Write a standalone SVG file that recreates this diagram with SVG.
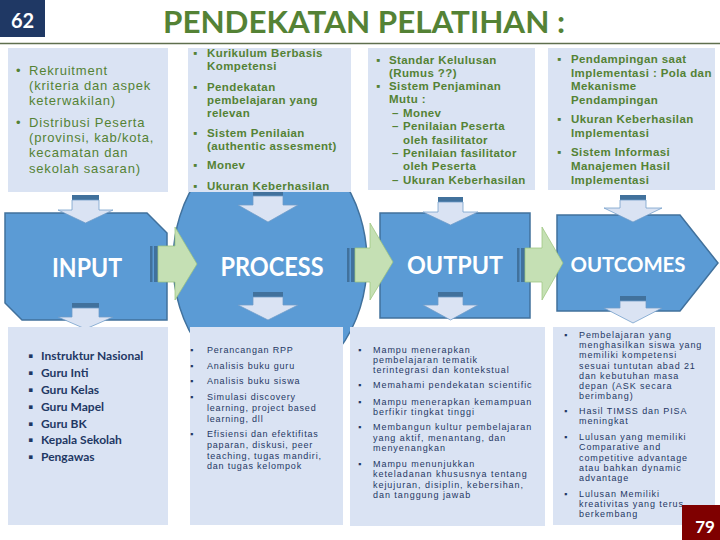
<svg xmlns="http://www.w3.org/2000/svg" width="720" height="540" viewBox="0 0 720 540">
<style>
.box{fill:#DAE3F3}
.shape{fill:#5B9BD5;stroke:#41719C;stroke-width:1.5}
.label{font-family:Lato,"Open Sans",sans-serif;font-weight:bold;fill:#FFFFFF;text-anchor:middle}
.g1{font-family:"Liberation Sans",Arial,sans-serif;font-size:13px;fill:#548235;letter-spacing:0.8px}
.g2{font-family:"Liberation Sans",Arial,sans-serif;font-size:11.5px;font-weight:bold;fill:#548235;letter-spacing:0.4px}
.n1{font-family:Lato,"Open Sans",sans-serif;font-size:12px;font-weight:bold;fill:#1F3864}
.n2{font-family:"Liberation Sans",Arial,sans-serif;font-size:9px;fill:#1F3864}
.ls2{letter-spacing:0.8px}
.ls3{letter-spacing:0.95px}
.ls4{letter-spacing:0.9px}
.stripe{fill:#41719C}
.darr{fill:#DAE3F3;stroke:#6D9BC8;stroke-width:0.75}
.rarr{fill:#C5E0B4;stroke:#9CC47E;stroke-width:0.75}
</style>
<rect width="720" height="540" fill="#FFFFFF"/>

<g id="header">
<rect x="0" y="0" width="45" height="37" fill="#1F3864"/>
<text x="22.5" y="27.5" font-family="Lato,'Open Sans',sans-serif" font-size="20" font-weight="bold" fill="#FFFFFF" text-anchor="middle">62</text>
<text x="364" y="33" font-family="Lato,'Open Sans',sans-serif" font-size="30" font-weight="bold" fill="#548235" text-anchor="middle" textLength="402" lengthAdjust="spacingAndGlyphs">PENDEKATAN PELATIHAN :</text>
<line x1="0" y1="43.5" x2="720" y2="43.5" stroke="#5F6F4E" stroke-width="1.5"/>
</g>

<g id="input">
<path class="shape" d="M5,213 H147 L167,233 V320 H22 L5,303 Z"/>
<text class="label" x="87" y="277" font-size="26" textLength="70" lengthAdjust="spacingAndGlyphs">INPUT</text>
</g>
<g id="process">
<ellipse class="shape" cx="270" cy="262" rx="97" ry="124"/>
<text class="label" x="272" y="276" font-size="26" textLength="103" lengthAdjust="spacingAndGlyphs">PROCESS</text>
</g>
<g id="output">
<rect class="shape" x="380" y="213" width="150" height="105"/>
<text class="label" x="455" y="274" font-size="24" textLength="96" lengthAdjust="spacingAndGlyphs">OUTPUT</text>
</g>
<g id="outcomes">
<path class="shape" d="M557,215 H680 L718,263 L680,311 H557 Z"/>
<text class="label" x="628" y="272" font-size="21" textLength="115" lengthAdjust="spacingAndGlyphs">OUTCOMES</text>
</g>

<g id="connectors">
<rect class="stripe" x="150" y="246" width="2.5" height="36"/>
<rect class="stripe" x="154" y="246" width="4" height="36"/>
<path class="rarr" d="M158,246 H175 V227 L197,264 L175,300 V282 H158 Z"/>
<rect class="stripe" x="347" y="248" width="2.5" height="34"/>
<rect class="stripe" x="351" y="248" width="4" height="34"/>
<path class="rarr" d="M355,248 H370 V223 L393,262 L370,300 V282 H355 Z"/>
<rect class="stripe" x="517" y="248" width="2.5" height="34"/>
<rect class="stripe" x="521" y="248" width="4" height="34"/>
<path class="rarr" d="M525,248 H542 V227 L563,263 L542,300 V282 H525 Z"/>
<rect class="stripe" x="72" y="195" width="27" height="5"/>
<path class="darr" d="M72,200 H99 V210 H113 L85.5,223 L58,210 H72 Z"/>
<rect class="stripe" x="72" y="303" width="27" height="5"/>
<path class="darr" d="M72,308 H99 V317 H113 L85.5,329 L58,317 H72 Z"/>
<rect class="stripe" x="253" y="191" width="30" height="5"/>
<path class="darr" d="M253,196 H283 V205 H298 L268,222 L238,205 H253 Z"/>
<rect class="stripe" x="253" y="292" width="30" height="5"/>
<path class="darr" d="M253,297 H283 V305 H298 L268,320 L238,305 H253 Z"/>
<rect class="stripe" x="438" y="197" width="25" height="5"/>
<path class="darr" d="M438,202 H463 V212 H478 L450.5,225 L423,212 H438 Z"/>
<rect class="stripe" x="438" y="292" width="25" height="5"/>
<path class="darr" d="M438,297 H463 V305 H478 L450.5,320 L423,305 H438 Z"/>
<rect class="stripe" x="620" y="195" width="26" height="5"/>
<path class="darr" d="M620,200 H646 V208 H662 L633,222 L604,208 H620 Z"/>
<rect class="stripe" x="620" y="296" width="26" height="5"/>
<path class="darr" d="M620,301 H646 V308 H662 L633,323 L604,308 H620 Z"/>
</g>

<g id="input-top">
<rect class="box" x="8" y="48" width="160" height="144"/>
<g class="g1">
<text x="16" y="75">•</text>
<text x="29" y="75">Rekruitment<tspan x="29" dy="15">(kriteria dan aspek</tspan><tspan x="29" dy="15">keterwakilan)</tspan></text>
<text x="16" y="127">•</text>
<text x="29" y="127">Distribusi Peserta<tspan x="29" dy="15">(provinsi, kab/kota,</tspan><tspan x="29" dy="15">kecamatan dan</tspan><tspan x="29" dy="16">sekolah sasaran)</tspan></text>
</g>
</g>
<g id="process-top">
<rect class="box" x="188" y="48" width="163" height="144"/>
<g class="g2">
<text x="193" y="57">▪</text>
<text x="207" y="57">Kurikulum Berbasis<tspan x="207" dy="13">Kompetensi</tspan></text>
<text x="193" y="91">▪</text>
<text x="207" y="91">Pendekatan<tspan x="207" dy="13">pembelajaran yang</tspan><tspan x="207" dy="13">relevan</tspan></text>
<text x="193" y="137">▪</text>
<text x="207" y="137">Sistem Penilaian<tspan x="207" dy="13">(authentic assesment)</tspan></text>
<text x="193" y="169">▪</text>
<text x="207" y="169">Monev</text>
<text x="193" y="190">▪</text>
<text x="207" y="190">Ukuran Keberhasilan</text>
</g>
</g>
<g id="output-top">
<rect class="box" x="368" y="48" width="167" height="142"/>
<g class="g2">
<text x="376" y="64">▪</text>
<text x="389" y="64">Standar Kelulusan<tspan x="389" dy="13">(Rumus ??)</tspan></text>
<text x="376" y="90">▪</text>
<text x="389" y="90">Sistem Penjaminan<tspan x="389" dy="13">Mutu :</tspan></text>
<text x="392" y="117">–</text>
<text x="403" y="117">Monev</text>
<text x="392" y="130">–</text>
<text x="403" y="130">Penilaian Peserta<tspan x="403" dy="14">oleh fasilitator</tspan></text>
<text x="392" y="157">–</text>
<text x="403" y="157">Penilaian fasilitator<tspan x="403" dy="13">oleh Peserta</tspan></text>
<text x="392" y="184">–</text>
<text x="403" y="184">Ukuran Keberhasilan</text>
</g>
</g>
<g id="outcomes-top">
<rect class="box" x="548" y="48" width="167" height="142"/>
<g class="g2">
<text x="557" y="63">▪</text>
<text x="571" y="63">Pendampingan saat<tspan x="571" dy="14">Implementasi : Pola dan</tspan><tspan x="571" dy="13">Mekanisme</tspan><tspan x="571" dy="14">Pendampingan</tspan></text>
<text x="557" y="123">▪</text>
<text x="571" y="123">Ukuran Keberhasilan<tspan x="571" dy="14">Implementasi</tspan></text>
<text x="557" y="156">▪</text>
<text x="571" y="156">Sistem Informasi<tspan x="571" dy="14">Manajemen  Hasil</tspan><tspan x="571" dy="14">Implementasi</tspan></text>
</g>
</g>

<g id="input-bottom">
<rect class="box" x="8" y="327" width="160" height="198"/>
<g class="n1">
<text x="28" y="360">▪</text><text x="41" y="360">Instruktur Nasional</text>
<text x="28" y="377">▪</text><text x="41" y="377">Guru Inti</text>
<text x="28" y="394">▪</text><text x="41" y="394">Guru Kelas</text>
<text x="28" y="411">▪</text><text x="41" y="411">Guru Mapel</text>
<text x="28" y="428">▪</text><text x="41" y="428">Guru BK</text>
<text x="28" y="444">▪</text><text x="41" y="444">Kepala Sekolah</text>
<text x="28" y="461">▪</text><text x="41" y="461">Pengawas</text>
</g>
</g>
<g id="process-bottom">
<rect class="box" x="190" y="327" width="153" height="198"/>
<g class="n2">
<text x="190" y="353">▪</text><text class="ls2" x="207" y="353">Perancangan RPP</text>
<text x="190" y="369">▪</text><text class="ls2" x="207" y="369">Analisis buku guru</text>
<text x="190" y="384">▪</text><text class="ls2" x="207" y="384">Analisis buku siswa</text>
<text x="190" y="400">▪</text><text class="ls2" x="207" y="400">Simulasi discovery<tspan x="207" dy="11">learning, project based</tspan><tspan x="207" dy="11">learning, dll</tspan></text>
<text x="190" y="437">▪</text><text class="ls2" x="207" y="437">Efisiensi dan efektifitas<tspan x="207" dy="11">paparan, diskusi, peer</tspan><tspan x="207" dy="10.5">teaching, tugas mandiri,</tspan><tspan x="207" dy="10.5">dan tugas kelompok</tspan></text>
</g>
</g>
<g id="output-bottom">
<rect class="box" x="350" y="327" width="195" height="199"/>
<g class="n2">
<text x="358" y="353">▪</text><text class="ls3" x="373" y="353">Mampu menerapkan<tspan x="373" dy="10.2">pembelajaran tematik</tspan><tspan x="373" dy="10.2">terintegrasi dan kontekstual</tspan></text>
<text x="358" y="388">▪</text><text class="ls3" x="373" y="388">Memahami pendekatan scientific</text>
<text x="358" y="405">▪</text><text class="ls3" x="373" y="405">Mampu menerapkan kemampuan<tspan x="373" dy="10.2">berfikir tingkat tinggi</tspan></text>
<text x="358" y="430">▪</text><text class="ls3" x="373" y="430">Membangun kultur pembelajaran<tspan x="373" dy="10.5">yang aktif, menantang, dan</tspan><tspan x="373" dy="10.5">menyenangkan</tspan></text>
<text x="358" y="467">▪</text><text class="ls3" x="373" y="467">Mampu menunjukkan<tspan x="373" dy="10.3">keteladanan khususnya tentang</tspan><tspan x="373" dy="10.3">kejujuran, disiplin, kebersihan,</tspan><tspan x="373" dy="10.4">dan tanggung jawab</tspan></text>
</g>
</g>
<g id="outcomes-bottom">
<rect class="box" x="553" y="327" width="162" height="198"/>
<g class="n2">
<text x="564" y="338">▪</text><text class="ls4" x="579" y="338">Pembelajaran yang<tspan x="579" dy="10.2">menghasilkan siswa yang</tspan><tspan x="579" dy="10.2">memiliki kompetensi</tspan><tspan x="579" dy="10.4">sesuai tuntutan abad 21</tspan><tspan x="579" dy="10.2">dan kebutuhan masa</tspan><tspan x="579" dy="10.2">depan (ASK secara</tspan><tspan x="579" dy="10.2">berimbang)</tspan></text>
<text x="564" y="414">▪</text><text class="ls4" x="579" y="414">Hasil TIMSS dan PISA<tspan x="579" dy="10.2">meningkat</tspan></text>
<text x="564" y="440">▪</text><text class="ls4" x="579" y="440">Lulusan yang memiliki<tspan x="579" dy="10.2">Comparative and</tspan><tspan x="579" dy="10.4">competitive advantage</tspan><tspan x="579" dy="10.2">atau bahkan dynamic</tspan><tspan x="579" dy="10.2">advantage</tspan></text>
<text x="564" y="497">▪</text><text class="ls4" x="579" y="497">Lulusan Memiliki<tspan x="579" dy="10.2">kreativitas yang terus</tspan><tspan x="579" dy="10.2">berkembang</tspan></text>
</g>
</g>

<g id="page-number">
<rect x="682" y="505" width="38" height="35" fill="#7F0000"/>
<text x="705" y="533" font-family="Lato,'Open Sans',sans-serif" font-size="17" font-weight="bold" fill="#FFFFFF" text-anchor="middle">79</text>
</g>
</svg>
